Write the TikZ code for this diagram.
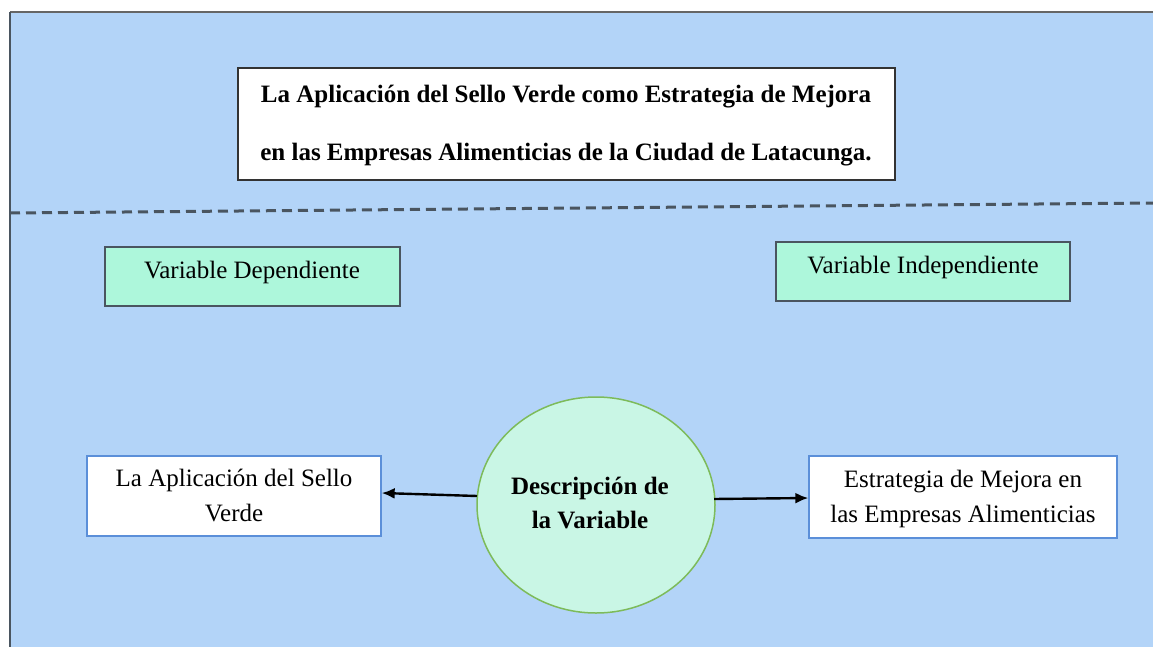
\documentclass[tikz,border=0pt]{standalone}
\usepackage{fontspec}
\setmainfont{Liberation Serif}
\usetikzlibrary{arrows.meta}
\definecolor{bgblue}{HTML}{B3D4F8}
\definecolor{mint}{HTML}{ADF7DB}
\definecolor{lightmint}{HTML}{C9F6E5}
\definecolor{circgreen}{HTML}{7DBB5A}
\definecolor{boxblue}{HTML}{5B8FD9}
\definecolor{linegray}{HTML}{4A5560}
\tikzset{
  txt/.style={font=\fontsize{25}{33}\selectfont, align=center, inner sep=0pt},
  btxt/.style={txt, font=\fontsize{25}{33}\selectfont\bfseries},
  varbox/.style={draw=linegray, line width=1.3pt, fill=mint},
  wbox/.style={draw=boxblue, line width=1.3pt, fill=white},
  conn/.style={-{Latex[length=13pt,width=11pt]}, line width=2.4pt, black},
}
\begin{document}
\begin{tikzpicture}[x=1pt,y=-1pt]
\useasboundingbox (0,0) rectangle (1153,647);
\fill[white] (0,0) rectangle (1153,647);
\fill[bgblue] (10,12) rectangle (1153,647);
\draw[gray!80!black, line width=2.5pt] (10,12) -- (1153,12);
\draw[linegray, line width=1.5pt] (10,12) -- (10,647);
% title
\draw[draw=black!80, line width=1.5pt, fill=white] (238,68) rectangle (895,180);
\node[btxt] (title1) at (566,97) {La Aplicación del Sello Verde como Estrategia de Mejora};
\node[btxt] (title2) at (566,155) {en las Empresas Alimenticias de la Ciudad de Latacunga.};
% dashed line
\draw[linegray, line width=3pt, dash pattern=on 10pt off 6pt] (10,213) -- (1153,203);
% variable boxes
\draw[varbox] (105,247) rectangle (400,306);
\node[txt] (vdep) at (252,272) {Variable Dependiente};
\draw[varbox] (776,242) rectangle (1070,301);
\node[txt] (vind) at (923,267) {Variable Independiente};
% white boxes
\node[wbox, minimum width=294pt, minimum height=80pt, inner sep=0pt] (left) at (234,496) {};
\node[txt] at (234,480) {La Aplicación del Sello};
\node[txt] at (234,513) {Verde};
\node[wbox, minimum width=308pt, minimum height=82pt, inner sep=0pt] (right) at (963,497) {};
\node[txt] at (963,482) {Estrategia de Mejora en};
\node[txt] at (963,516) {las Empresas Alimenticias};
% circle
\draw[draw=circgreen, line width=1.5pt, fill=lightmint] (596,505) ellipse [x radius=119, y radius=108];
\node[btxt] (desc1) at (590,488) {Descripción de};
\node[btxt] (desc2) at (590,520) {la Variable};
\coordinate (cl) at (477,496);
\coordinate (cr) at (714,499);
\draw[conn] (cl) -- (left.east |- 0,493);
\draw[conn] (cr) -- (right.west |- 0,498);
\end{tikzpicture}
\end{document}
